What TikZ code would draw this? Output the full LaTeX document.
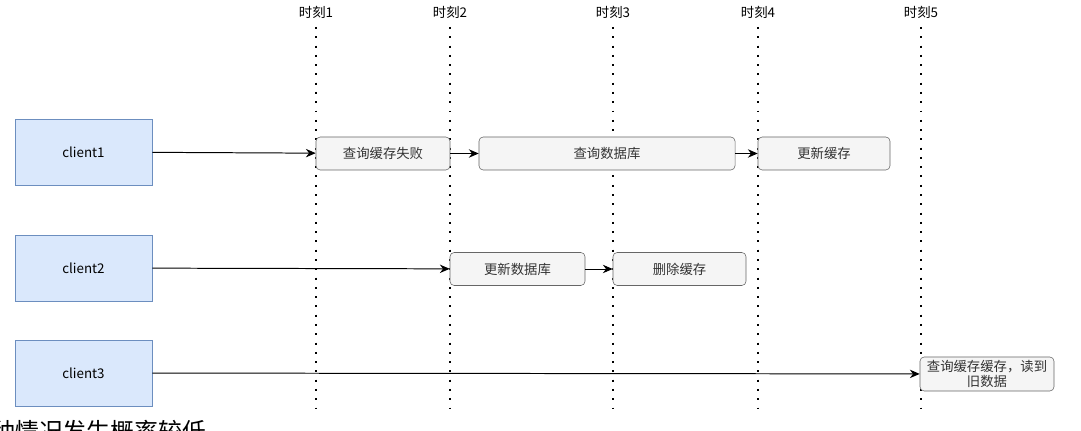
\documentclass[tikz,border=0pt]{standalone}
\usepackage{fontspec}
\setmainfont{Noto Sans CJK SC}
\usetikzlibrary{arrows.meta}

\definecolor{clientfill}{HTML}{DAE8FC}
\definecolor{clientline}{HTML}{6C8EBF}
\definecolor{stepfill}{HTML}{F5F5F5}
\definecolor{stepline}{HTML}{666666}
\definecolor{steptext}{HTML}{333333}

\begin{document}
\begin{tikzpicture}[x=0.025cm, y=-0.025cm,
    every node/.style={font=\fontsize{9.5pt}{11pt}\selectfont},
    client/.style={rectangle, draw=clientline, fill=clientfill, minimum width=3.425cm, minimum height=1.65cm},
    stepbox/.style={rectangle, rounded corners=3pt, draw=stepline, fill=stepfill, text=steptext, minimum height=0.825cm},
    timeline/.style={line width=1.4pt, dash pattern=on 1.4pt off 5.2pt},
    flow/.style={-{Stealth[length=7pt, width=6pt]}, line width=0.7pt}]
    \useasboundingbox (0, 0) rectangle (1081, 431);
    \clip (0, 0) rectangle (1081, 431);

    % time marks
    \foreach \i/\x in {1/316, 2/450, 3/613, 4/758, 5/921} {
        \node (t\i) at (\x, 12) {时刻\i};
        \coordinate (b\i) at (\x, 410);
        \draw[timeline] (\x, 27) -- (b\i);
    }

    \node[client] (c1) at (83.5, 152) {client1};
    \node[client] (c2) at (83.5, 268) {client2};
    \node[client] (c3) at (83.5, 373) {client3};

    \node[stepbox, minimum width=3.35cm] (miss) at (383, 153.5) {查询缓存失败};
    \node[stepbox, minimum width=6.4cm] (readdb) at (607, 153.5) {查询数据库};
    \node[stepbox, minimum width=3.3cm] (setcache) at (824, 153.5) {更新缓存};
    \node[stepbox, minimum width=3.375cm] (writedb) at (517.5, 269) {更新数据库};
    \node[stepbox, minimum width=3.325cm] (delcache) at (679.5, 269) {删除缓存};
    \node[stepbox, minimum width=3.35cm, minimum height=0.85cm, align=center, inner sep=1pt,
        font=\fontsize{9.5pt}{10.2pt}\selectfont] (stale) at (987, 374) {查询缓存缓存，读到\\旧数据};

    \draw[flow] (c1) -- (miss);
    \draw[flow] (miss) -- (readdb);
    \draw[flow] (readdb) -- (setcache);
    \draw[flow] (c2) -- (writedb);
    \draw[flow] (writedb) -- (delcache);
    \draw[flow] (c3) -- (stale);

    \node[anchor=base west, inner sep=0pt, font=\fontsize{17pt}{19pt}\selectfont] (note) at (-9, 441) {种情况发生概率较低};
\end{tikzpicture}
\end{document}
